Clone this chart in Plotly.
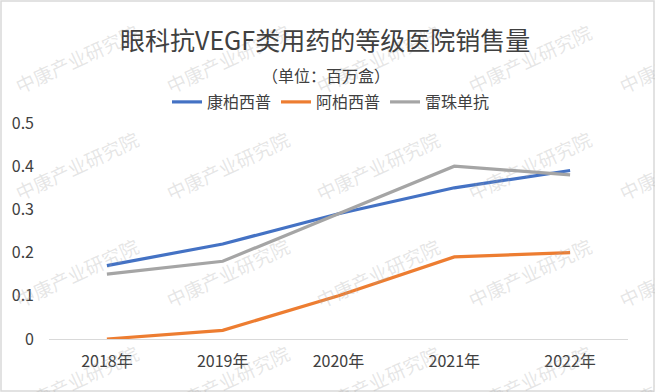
import plotly.graph_objects as go

years = ["2018年", "2019年", "2020年", "2021年", "2022年"]
kangbaixipu = [0.17, 0.22, 0.29, 0.35, 0.39]
abaixipu = [0.00, 0.02, 0.10, 0.19, 0.20]
leizhudankang = [0.15, 0.18, 0.29, 0.40, 0.38]

series_names = ["康柏西普", "阿柏西普", "雷珠单抗"]
series_colors = ["#4472C4", "#ED7D31", "#A5A5A5"]

W, H = 655, 392
L, R, T, B = 49, 27, 123, 53
plot_w = W - L - R
plot_h = H - T - B
font_family = "Noto Sans CJK SC, Noto Sans, sans-serif"


def px2paper_x(px):
    return (px - L) / plot_w


def px2paper_y(py):
    return (H - B - py) / plot_h


fig = go.Figure()
for name, vals, col in zip(series_names, [kangbaixipu, abaixipu, leizhudankang], series_colors):
    fig.add_trace(go.Scatter(x=years, y=vals, mode="lines", name=name,
                             line=dict(color=col, width=3.2)))

annotations = []
# watermark grid
for cy in [58, 165, 272, 379]:
    for cx in [76, 227, 378, 529, 680]:
        annotations.append(dict(text="中康产业研究院", x=px2paper_x(cx), xref="paper",
                                y=px2paper_y(cy), yref="paper", showarrow=False, textangle=-25,
                                font=dict(size=19, color="rgba(165,165,165,0.28)", family=font_family),
                                xanchor="center", yanchor="middle"))
# title
annotations.append(dict(text="眼科抗VEGF类用药的等级医院销售量", x=px2paper_x(325), xref="paper",
                        y=px2paper_y(39), yref="paper", showarrow=False,
                        font=dict(size=25, color="#404040", family=font_family),
                        xanchor="center", yanchor="middle"))
# subtitle
annotations.append(dict(text="（单位：百万盒）", x=px2paper_x(326), xref="paper",
                        y=px2paper_y(75), yref="paper", showarrow=False,
                        font=dict(size=16, color="#404040", family=font_family),
                        xanchor="center", yanchor="middle"))

fig.update_layout(
    width=W, height=H,
    margin=dict(l=L, r=R, t=T, b=B, autoexpand=False),
    paper_bgcolor="white", plot_bgcolor="white",
    font=dict(family=font_family, color="#404040", size=16),
    showlegend=True,
    legend=dict(orientation="h", x=px2paper_x(331), xanchor="center",
                y=px2paper_y(102), yanchor="middle",
                font=dict(size=16, color="#404040"), itemwidth=30,
                bgcolor="rgba(0,0,0,0)"),
    xaxis=dict(range=[-0.5, 4.5], showgrid=False, showline=True, linecolor="#D9D9D9", linewidth=1,
               ticks="", tickfont=dict(size=16, color="#404040"), zeroline=False,
               ticklabelstandoff=8),
    yaxis=dict(range=[0, 0.5], showgrid=False, showline=False, zeroline=False,
               ticks="", tickfont=dict(size=16, color="#404040"),
               tickvals=[0, 0.1, 0.2, 0.3, 0.4, 0.5],
               ticktext=["0", "0.1", "0.2", "0.3", "0.4", "0.5"],
               ticklabelstandoff=14),
    annotations=annotations,
    shapes=[dict(type="rect", xref="paper", yref="paper",
                 x0=px2paper_x(1), x1=px2paper_x(W - 1),
                 y0=px2paper_y(H - 1), y1=px2paper_y(1),
                 line=dict(color="#D9D9D9", width=1.5), layer="above")],
)

fig.write_html("out.html", config={"displayModeBar": False},
               post_script="document.body.style.margin='0';document.body.style.overflow='hidden';")
